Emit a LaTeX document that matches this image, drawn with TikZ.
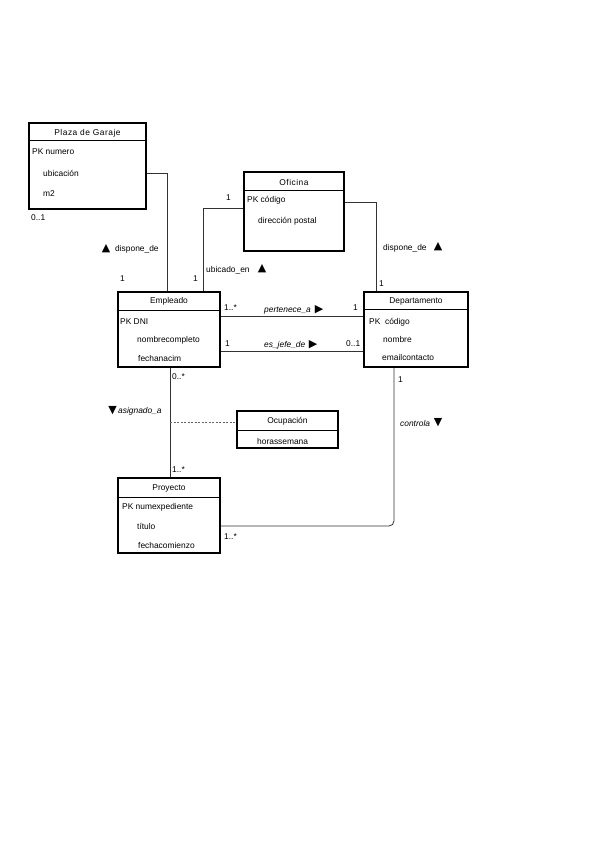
\documentclass[tikz,border=0pt]{standalone}
\usepackage{fontspec}
\setmainfont{Liberation Sans}
\newfontfamily\symfont{DejaVu Sans}
\usetikzlibrary{calc}
\tikzset{
  cls/.style={draw=black, line width=1.3pt, rectangle, inner sep=0pt, fill=white},
  conn/.style={draw=black!80, line width=0.8pt},
  txt/.style={anchor=west, inner sep=0pt, font=\fontsize{8.4}{9}\selectfont},
  hdr/.style={inner sep=0pt, font=\fontsize{8.4}{9}\selectfont},
  lbl/.style={anchor=west, inner sep=0pt, font=\fontsize{8.4}{9}\selectfont},
  tri/.style={inner sep=0pt, font=\symfont\fontsize{11}{11}\selectfont},
}
\newcommand{\clsdivider}[2]{\draw[line width=1.1pt] ([yshift=-#2pt]#1.north west) -- ([yshift=-#2pt]#1.north east);}
\begin{document}
\begin{tikzpicture}[x=1pt,y=-1pt]
\useasboundingbox[fill=white] (0,0) rectangle (599,848);

% classes
\node[cls, minimum width=117pt, minimum height=86pt] (plaza) at (87.5,166) {};
\node[cls, minimum width=100pt, minimum height=79pt] (ofi) at (294,211.5) {};
\node[cls, minimum width=102pt, minimum height=75pt] (emp) at (169,329.5) {};
\node[cls, minimum width=104pt, minimum height=75pt] (dep) at (416,329.5) {};
\node[cls, minimum width=102pt, minimum height=75pt] (pro) at (169,515.5) {};
\node[cls, minimum width=101pt, minimum height=37pt] (ocu) at (287.5,429.5) {};
\clsdivider{plaza}{18}
\clsdivider{ofi}{19}
\clsdivider{emp}{19}
\clsdivider{dep}{18}
\clsdivider{pro}{20}
\clsdivider{ocu}{20}

% headers
\node[hdr] (hplaza) at (87.5,133) {\addfontfeatures{LetterSpace=6}Plaza de Garaje};
\node[hdr] (hofi) at (294,182) {\addfontfeatures{LetterSpace=6}Oficina};
\node[hdr] (hemp) at (169,301.5) {Empleado};
\node[hdr] (hdep) at (416,301) {Departamento};
\node[hdr] (hpro) at (169,488.5) {Proyecto};
\node[hdr] (hocu) at (287.5,421) {Ocupación};

% attributes
\node[txt] (a1) at (32,152) {PK numero};
\node[txt] (a2) at (43,173) {ubicación};
\node[txt] (a3) at (43,194) {m2};
\node[txt] (b1) at (247,200) {PK código};
\node[txt] (b2) at (258,221.5) {dirección postal};
\node[txt] (c1) at (120,322) {PK DNI};
\node[txt] (c2) at (137,340) {nombrecompleto};
\node[txt] (c3) at (138,358) {fechanacim};
\node[txt] (d1) at (369,322) {PK\ \ código};
\node[txt] (d2) at (383,339.5) {nombre};
\node[txt] (d3) at (382,357) {emailcontacto};
\node[txt] (e1) at (122,507) {PK numexpediente};
\node[txt] (e2) at (137,526) {título};
\node[txt] (e3) at (138,545) {fechacomienzo};
\node[txt] (f1) at (257,441) {horassemana};

% connectors
\draw[conn] ([yshift=-7pt]plaza.east) -| ([xshift=-2pt]emp.north);
\draw[conn] ([yshift=3.5pt]ofi.west) -| ([xshift=34pt]emp.north);
\draw[conn] ([yshift=9.5pt]ofi.east) -| ([xshift=-40pt]dep.north);
\draw[conn] ([yshift=13.5pt]emp.east) -- ([yshift=13.5pt]dep.west);
\draw[conn] ([yshift=-21.5pt]emp.east) -- ([yshift=-21.5pt]dep.west);
\draw[conn] ([xshift=1pt]emp.south) -- ([xshift=1pt]pro.north);
\coordinate (asg) at (170,422);
\draw[conn, dash pattern=on 2pt off 1.5pt, draw=black!60] (asg) -- ([yshift=7.5pt]ocu.west);
\draw[conn, rounded corners=5pt] ([yshift=-10.5pt]pro.east) -| ([xshift=-22pt]dep.south);

% multiplicities and role labels
\node[lbl] (m1) at (31,218) {0..1};
\node[tri] (t1) at (106,249) {▲};
\node[lbl] (l1) at (115,249.5) {dispone\_de};
\node[lbl] (m2) at (120,279) {1};
\node[lbl] (m3) at (193,279) {1};
\node[lbl] (m4) at (226,197.5) {1};
\node[lbl] (l2) at (206,270) {ubicado\_en};
\node[tri] (t2) at (262,269) {▲};
\node[lbl] (l3) at (383,248) {dispone\_de};
\node[tri] (t3) at (438,247) {▲};
\node[lbl] (m5) at (379,284) {1};
\node[lbl] (m6) at (224,307.5) {1..*};
\node[lbl] (l4) at (264,311) {\itshape pertenece\_a};
\node[tri] (t4) at (319,310) {▶};
\node[lbl] (m7) at (353,307.5) {1};
\node[lbl] (m8) at (225,344) {1};
\node[lbl] (l5) at (264,345.5) {\itshape es\_jefe\_de};
\node[tri] (t5) at (313,344.5) {▶};
\node[lbl] (m9) at (346,344) {0..1};
\node[lbl] (m10) at (172,377) {0..*};
\node[tri] (t6) at (112.5,411) {▼};
\node[lbl] (l6) at (118,411) {\itshape asignado\_a};
\node[lbl] (m11) at (172,470) {1..*};
\node[lbl] (m12) at (224,537) {1..*};
\node[lbl] (m13) at (398,380) {1};
\node[lbl] (l7) at (400,423) {\itshape controla};
\node[tri] (t7) at (438,423) {▼};
\end{tikzpicture}
\end{document}
